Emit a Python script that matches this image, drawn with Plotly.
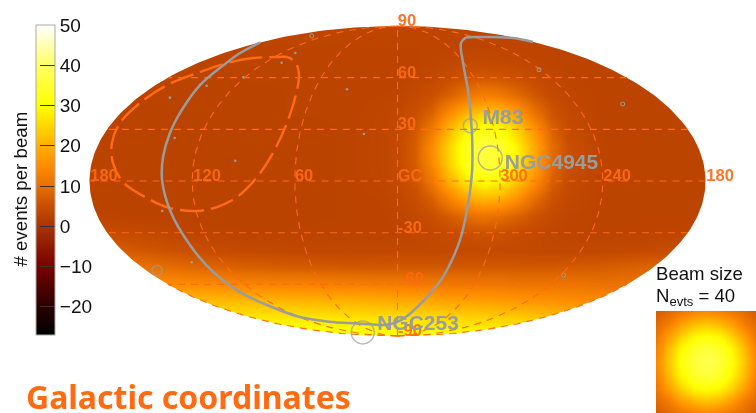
import numpy as np
import plotly.graph_objects as go

# Sky map cells: map x (deg, + = left), latitude rows from +90 to -90
map_x = [180,150,120,90,60,30,10,0,-10,-20,-30,-40,-50,-60,-70,-80,-90,-100,-120,-150,-180]
map_lat = [90,80,70,60,50,40,30,20,10,0,-10,-20,-30,-40,-50,-60,-70,-80,-90]
events = [
 [3.3]*21,
 [3.2]*21,
 [3,3,3,3,3,3,3.1,3.1,3.1,3.4,3.7,4,4.1,4,3.8,3.4,3.2,3.1,3,3,3],
 [3,3,3,3,3,3,3,3,3.5,4,4.8,5.8,6.4,6,5.2,4.3,3.7,3.2,3,3,3],
 [2.9,2.9,2.9,2.9,3,3,3.2,3.4,4.1,5.4,7.8,11,13,12,9.2,6.4,4.4,3.6,3,3,3],
 [2.9,2.9,2.9,2.9,3,3,3.4,3.8,5.1,8,14.5,20,23,22,17,10.4,6,4.1,3,3,3],
 [2.8,2.8,2.8,2.8,2.9,3,3.5,4.1,6.4,12,21,28.5,32,30.6,24.2,16,7.8,4.5,3.1,3,3],
 [2.8,2.8,2.8,2.8,2.9,3,3.6,4.3,7.2,15,24.6,33,36.4,35,28.5,18.7,9.6,5.1,3.2,3,3],
 [2.8,2.8,2.8,2.8,2.9,3,3.6,4.3,7,14.4,24.2,32.5,36,34.5,28,18.4,9.2,5,3.2,3,3],
 [2.8,2.8,2.8,2.8,2.9,3,3.5,4.1,6,11.4,20,27,30.6,29,23,15,7.6,4.4,3.1,3,3],
 [2.9,2.8,2.8,2.8,2.9,3,3.2,3.7,4.8,7.6,13,18.4,21,20,15.4,9.6,5.7,4,3,3,3],
 [3,3,2.8,2.8,2.9,3,3.1,3.4,4,5.1,7.2,9.6,11,10,8,5.8,4.3,3.5,3,3,3],
 [5,4.2,3.2,3,3,3.1,3.1,3.1,3.5,4,4.5,5.2,5.7,5.5,4.7,4.2,3.6,3.3,3.1,3.2,3.5],
 [8,6.5,5,4.2,3.9,3.8,3.9,4,4,4,4.1,4.2,4.3,4.2,4.1,4,3.9,3.8,3.9,4.4,5],
 [12,10.5,9,7.8,7.2,6.8,6.8,6.8,6.8,6.8,6.8,6.8,6.8,6.8,6.8,6.8,6.8,7,7.4,8.4,9],
 [16,15.5,15,14,13.5,13,12.5,12.5,12,12,11.5,11.5,11.5,11.5,11,11,11,11,10.5,10.5,10.5],
 [22.5,22.5,22,21.5,21,20.5,20,19.5,19.5,19,18.5,18.5,18,17.5,17,16.5,16,15.5,15,15,15],
 [30,30,29.5,27.5,27.5,27,26.5,26.5,26.3,26,25.5,25,24.7,24.5,24,23.5,23,22.5,22,21,20],
 [32,32,32,32,32,31.5,31,31,31,31,30.5,30.5,30,30,30,30,30,30,30,30,30],
]

# Beam inset
beam_axis = [-50,-37.5,-25,-12.5,0,12.5,25,37.5,50]
beam_events = [
 [7,9,11,13,14,13,11,9,7],
 [9,12.5,18,21.5,23,21.5,18,12.5,9],
 [11,18,24.5,29.5,31,29.5,24.5,18,11],
 [13,21.5,29.5,34,36,34,29.5,21.5,13],
 [14,23,31,36,38,36,31,23,14],
 [13,21.5,29.5,34,36,34,29.5,21.5,13],
 [11,18,24.5,29.5,31,29.5,24.5,18,11],
 [9,12.5,18,21.5,23,21.5,18,12.5,9],
 [7,9,11,13,14,13,11,9,7],
]

# Supergalactic plane (gray) in map coordinates
plane_x = [80.4,92,102,115.4,126.1,133,137,137.6,133,121.3,107.8,92,76.3,57,37.7,17.8,7.3,0.3,-5.6,-17.2,-26.6,-36.5,-40.6,-43.5,-43.5,-41.2,-38.3,-37.1,-39.5,-48.2,-67.5,-79.2]
plane_y = [80.3,74.3,67,55.7,41.2,27.9,13.9,0.6,-16.8,-37.2,-52.8,-64.5,-72,-79,-81.9,-83,-83.6,-81.9,-78.4,-67.4,-55.7,-34.3,-16.8,4.6,27.9,52.8,68.5,80.1,83,83.6,83,80.7]

# Hot-spot contour (dashed orange) in map coordinates
region_x = [69.8,84.5,99.6,115.4,134.7,150.5,162.2,166.9,166.3,160.4,146.4,133,117.2,105.5,93.8,82.1,72.8,64.6,58.7,57.6,59.9,64.6,69.8]
region_y = [72,71.4,68.5,63.3,55.7,45.3,33.7,22.1,10.5,-0.6,-9.9,-15.7,-17.4,-15.1,-9.3,2.3,16.3,33.7,52.8,62.7,69.1,72,72]

# Sources
big_x = [-42.5,-54.2,20.3,140.4]
big_y = [32.1,13.4,-87.9,-51.9]
big_d = [14,24,23,10]
open_x = [-82.7,-131.6,-97.1,50.1]
open_y = [64.6,44.7,-54.6,84.2]
dot_x = [67.7,59.7,90.1,111.5,115.4,133,126.5,130.2,94.8,29.5,19.6,137.5,120.3]
dot_y = [68.7,74.3,60.2,55.3,55.9,48.4,40.7,25,11.8,53.3,27.3,-17.4,-47.2]

# Graticule labels
grid_labels = ["180","120","60","GC","300","240","180","90","60","30","-30","-60","-90"]
grid_label_x = [171.5,111.3,54.6,-7.3,-68.1,-128.3,-188.5,-5.5,-5.5,-5.5,-7.3,-8.5,-7.3]
grid_label_y = [2.3,2.3,2.3,2.3,2.3,2.3,2.3,92.3,62.1,32.5,-27.9,-57.5,-87.7]

source_names = ["M83","NGC4945","NGC253"]
source_name_x = [-61.4,-90,-12]
source_name_y = [35.9,9.8,-83.2]

cbar_ticks = [-20,-10,0,10,20,30,40,50]
meridians = [-120,-60,0,60,120]
rim_meridians = [-180,180]
parallels = [-60,-30,0,30,60]

ORANGE = "#ff6a13"
GRAY = "#9a9c9e"
SANS = "Liberation Sans, Arial, sans-serif"

zmin, zmax = -27, 50
stops = [(-27,"#000000"),(-20,"#2a0000"),(-10,"#780000"),(0,"#a83400"),(5,"#c84e00"),
         (10,"#e87000"),(15,"#ff8c00"),(20,"#ffb000"),(30,"#ffff00"),(40,"#ffff66"),(50,"#ffffff")]
cscale = [[(v-zmin)/(zmax-zmin),c] for v,c in stops]

X_RANGE = [232.3,-209.5]
Y_RANGE = [-134.7,105.1]

fig = go.Figure()
fig.add_trace(go.Heatmap(x=map_x[::-1], y=map_lat[::-1], z=np.array(events)[::-1,::-1],
                         zsmooth="best", coloraxis="coloraxis", hoverinfo="skip"))

# White mask outside of the sky ellipse (hole wound opposite to the outer rectangle)
t = np.linspace(0, -2*np.pi, 361)
ex = 180*np.cos(t); ey = 90*np.sin(t)
mx = [X_RANGE[0],X_RANGE[0],X_RANGE[1],X_RANGE[1],X_RANGE[0],X_RANGE[0],180] + ex.tolist() + [X_RANGE[0]]
my = [0,Y_RANGE[1],Y_RANGE[1],Y_RANGE[0],Y_RANGE[0],0,0] + ey.tolist() + [0]
fig.add_trace(go.Scatter(x=mx, y=my, mode="lines", fill="toself", fillcolor="white",
                         line=dict(width=0), hoverinfo="skip", showlegend=False))

# Graticule
gl = dict(color=ORANGE, width=1.1, dash="7px,6px")
lat_s = np.linspace(-90,90,181)
for m in meridians:
    fig.add_trace(go.Scatter(x=m*np.sqrt(1-(lat_s/90)**2), y=lat_s, mode="lines", line=gl,
                             hoverinfo="skip", showlegend=False))
lat_rim = np.linspace(-90,-60,61)
for m in rim_meridians:
    fig.add_trace(go.Scatter(x=m*np.sqrt(1-(lat_rim/90)**2), y=lat_rim, mode="lines", line=gl,
                             hoverinfo="skip", showlegend=False))
for p in parallels:
    w = 180*np.sqrt(1-(p/90)**2)
    fig.add_trace(go.Scatter(x=[-w,w], y=[p,p], mode="lines", line=gl, hoverinfo="skip", showlegend=False))

fig.add_trace(go.Scatter(x=region_x, y=region_y, mode="lines",
                         line=dict(color=ORANGE, width=2.4, dash="24px,7px", shape="spline"),
                         hoverinfo="skip", showlegend=False))
fig.add_trace(go.Scatter(x=plane_x, y=plane_y, mode="lines",
                         line=dict(color=GRAY, width=2.5, shape="spline"),
                         hoverinfo="skip", showlegend=False))

fig.add_trace(go.Scatter(x=big_x, y=big_y, mode="markers",
                         marker=dict(size=big_d, color="rgba(0,0,0,0)", line=dict(color=GRAY, width=1.5)),
                         hoverinfo="skip", showlegend=False))
fig.add_trace(go.Scatter(x=open_x, y=open_y, mode="markers",
                         marker=dict(size=4, color="rgba(0,0,0,0)", line=dict(color=GRAY, width=1)),
                         hoverinfo="skip", showlegend=False))
fig.add_trace(go.Scatter(x=dot_x, y=dot_y, mode="markers",
                         marker=dict(size=2.6, color=GRAY), hoverinfo="skip", showlegend=False))

fig.add_trace(go.Scatter(x=grid_label_x, y=grid_label_y, mode="text", text=grid_labels,
                         textfont=dict(family=SANS, size=16.5, color=ORANGE, weight="bold"),
                         hoverinfo="skip", showlegend=False, opacity=0.92))
fig.add_trace(go.Scatter(x=source_name_x, y=source_name_y, mode="text", text=source_names,
                         textfont=dict(family=SANS, size=21, color=GRAY, weight="bold"),
                         hoverinfo="skip", showlegend=False))

# Beam inset
fig.add_trace(go.Heatmap(x=beam_axis, y=beam_axis, z=beam_events, zsmooth="best",
                         coloraxis="coloraxis", xaxis="x2", yaxis="y2", hoverinfo="skip"))

hidden = dict(visible=False, showgrid=False, zeroline=False, fixedrange=True)
W, H = 756, 413
fig.update_layout(
    width=W, height=H, margin=dict(l=0,r=0,t=0,b=0,autoexpand=False),
    paper_bgcolor="white", plot_bgcolor="white", showlegend=False,
    xaxis=dict(range=X_RANGE, domain=[0,1], **hidden),
    yaxis=dict(range=Y_RANGE, domain=[0,1], **hidden),
    xaxis2=dict(range=[-50,50], domain=[656/W,1], anchor="y2", **hidden),
    yaxis2=dict(range=[-50,50], domain=[0,102/H], anchor="x2", **hidden),
    coloraxis=dict(cmin=zmin, cmax=zmax, colorscale=cscale,
        colorbar=dict(x=36/W, xanchor="left", y=1-25/H, yanchor="top", lenmode="pixels", len=310,
                      thicknessmode="pixels", thickness=19, xpad=0, ypad=0,
                      tickmode="array", tickvals=cbar_ticks, ticks="inside", ticklen=15, tickwidth=1.4,
                      tickcolor="#333333", outlinewidth=1, outlinecolor="#aaaaaa",
                      tickfont=dict(family=SANS, size=19, color="#111111"))),
    font=dict(family=SANS),
    annotations=[
        dict(text="# events per beam", xref="paper", yref="paper", x=20/W, y=1-189.5/H, textangle=-90,
             showarrow=False, font=dict(size=18.7, color="#111111", family=SANS), xanchor="center", yanchor="middle"),
        dict(text="Beam size", xref="paper", yref="paper", x=654/W, y=1-273/H, showarrow=False,
             xanchor="left", yanchor="middle", font=dict(size=18.6, color="#111111", family=SANS)),
        dict(text="N<sub>evts</sub> = 40", xref="paper", yref="paper", x=654/W, y=1-297/H, showarrow=False,
             xanchor="left", yanchor="middle", font=dict(size=18.6, color="#111111", family=SANS)),
        dict(text="<b>Galactic coordinates</b>", xref="paper", yref="paper", x=24/W, y=1-396/H, showarrow=False,
             xanchor="left", yanchor="middle", font=dict(size=32, color=ORANGE, family="Noto Sans, sans-serif")),
    ],
)
fig.write_html("out.html", config={"displayModeBar": False},
               post_script="document.body.style.margin='0';document.documentElement.style.overflow='hidden';")
